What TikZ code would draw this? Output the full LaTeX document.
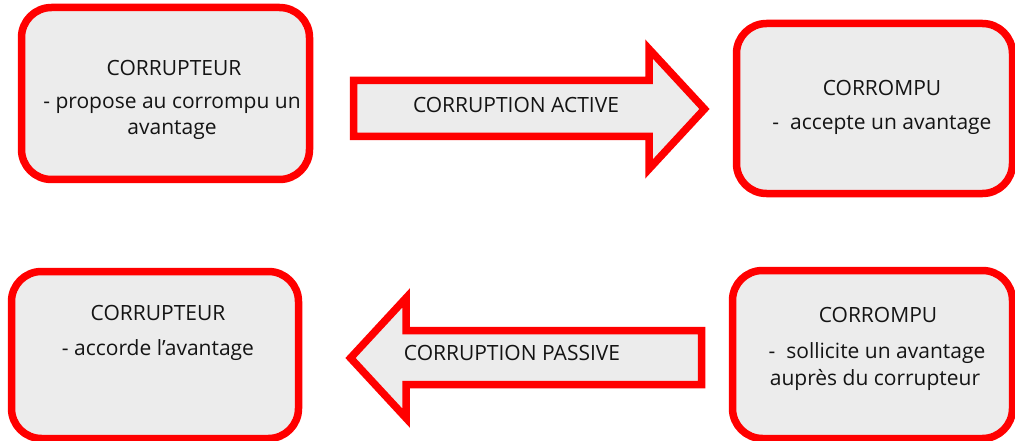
\documentclass[tikz,border=0pt]{standalone}
\usepackage{fontspec}
\setmainfont{Open Sans}
\definecolor{boxgray}{HTML}{ECECEC}
\definecolor{textgray}{HTML}{141414}
\definecolor{redline}{HTML}{FF0000}
\begin{document}
\begin{tikzpicture}[x=1pt,y=-1pt,
  box/.style={draw=redline, line width=7.5pt, fill=boxgray, rounded corners=30pt, inner sep=0pt},
  bigarrow/.style={draw=redline, line width=7.5pt, fill=boxgray, line join=miter},
  lbl/.style={font=\fontsize{21}{25}\selectfont, text=textgray, inner sep=0pt, anchor=center}]
\useasboundingbox (0,0) rectangle (1015,441);
% boxes
\node[box, minimum width=288pt, minimum height=172pt] (b1) at (165.5,93.5) {};
\node[box, minimum width=276pt, minimum height=170pt] (b2) at (874.5,108.5) {};
\node[box, minimum width=287pt, minimum height=167pt] (b3) at (155,355) {};
\node[box, minimum width=280pt, minimum height=168pt] (b4) at (872.5,354.5) {};
% arrows
\draw[bigarrow] (353.5,80.5) -- (649,80.5) -- (649,49) -- (704.5,109) -- (649,169) -- (649,136.5) -- (353.5,136.5) -- cycle;
\draw[bigarrow] (701.5,330.5) -- (406,330.5) -- (406,298) -- (350.5,358) -- (406,418) -- (406,384.5) -- (701.5,384.5) -- cycle;
% texts
\node[lbl] (t1a) at (174,68) {CORRUPTEUR};
\node[lbl] (t1b) at (172,105) {- propose au corrompu un};
\node[lbl] (t1c) at (172,130) {avantage};
\node[lbl] (t2a) at (882,88) {CORROMPU};
\node[lbl] (t2b) at (882,125) {-\ \ accepte un avantage};
\node[lbl] (t3a) at (158,313) {CORRUPTEUR};
\node[lbl] (t3b) at (158,350) {- accorde l’avantage};
\node[lbl] (t4a) at (878,315) {CORROMPU};
\node[lbl] (t4b) at (877,353) {-\ \ sollicite un avantage};
\node[lbl] (t4c) at (875,380) {auprès du corrupteur};
\node[lbl] (a1) at (516,105) {CORRUPTION ACTIVE};
\node[lbl] (a2) at (512,353) {CORRUPTION PASSIVE};
\end{tikzpicture}
\end{document}
